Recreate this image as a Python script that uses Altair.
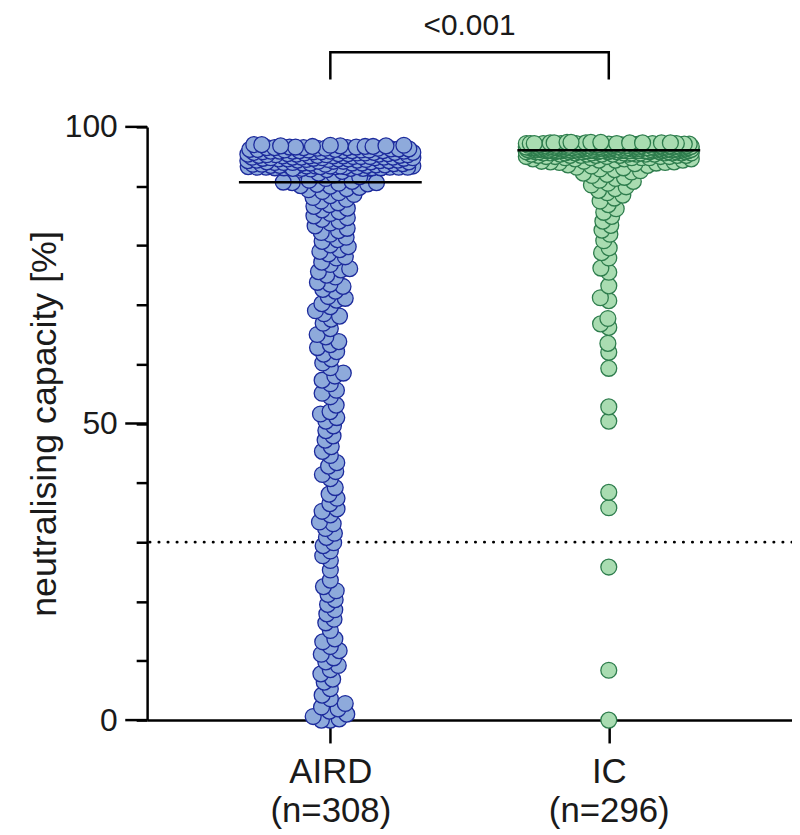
import numpy as np
import pandas as pd
import altair as alt

# ---------------- data ----------------
groups = ["AIRD", "IC"]
group_label_lines = [["AIRD", "(n=308)"], ["IC", "(n=296)"]]
p_value_text = ["<0.001"]
p_value_level = [115.5]
bracket_levels = [108.0, 112.6, 112.6, 108.0]
threshold = [30]
major_ticks = [0, 50, 100]

aird_low = [
    0.0, 0.0, 0.2, 0.6, 1.0, 1.5, 1.9, 2.2,
    2.8, 3.6, 4.2, 5.3, 6.4, 6.9, 7.8, 8.5, 9.2, 9.8,
    10.5, 11.1, 11.7, 12.4, 13.2, 13.7, 15.1, 16.4, 17.0, 17.9, 18.6, 19.5,
    20.3, 21.2, 21.8, 22.5, 23.6, 25.3, 26.9, 27.7, 28.5, 29.4, 29.9,
    30.8, 31.5, 32.3, 33.1, 33.4, 34.6, 35.2, 35.6, 36.5, 37.4, 38.1, 39.2,
    40.7, 41.4, 41.9, 42.8, 43.4, 44.6, 45.3, 46.1, 47.2, 47.9, 48.8, 49.6,
    50.4, 51.0, 51.6, 52.0, 53.1, 54.5, 55.1, 55.6, 56.7, 57.3, 58.0, 58.5, 59.4,
    60.2, 60.9, 61.7, 62.1, 62.8, 63.3, 63.8, 64.6, 65.0, 66.0, 66.9, 67.6,
    68.1, 68.5, 69.0, 69.7,
    70.2, 70.8, 71.1, 71.4, 72.3, 72.6, 73.1, 73.5, 73.8, 74.7, 75.0, 75.6,
    75.9, 76.1, 76.8, 77.2, 77.9, 78.1, 78.6, 79.0, 79.3, 79.8,
    80.1, 80.7, 81.0, 81.4, 81.9, 82.2, 82.5, 82.9, 83.3, 83.8, 84.1, 84.4,
    84.7, 85.0, 85.4, 85.7, 86.0, 86.3, 86.6, 86.9, 87.2, 87.5, 87.8, 88.1,
    88.4, 88.6, 88.9, 89.1, 89.4, 89.6, 89.8, 90.0, 90.1, 90.3, 90.4, 90.5,
    90.6, 90.6,
]
aird_top = [
    90.7, 90.8, 91.0, 91.3, 91.6, 91.9, 92.2, 92.5,
    92.8, 92.9, 93.0, 93.0, 93.1, 93.1, 93.2, 93.2, 93.2, 93.3, 93.3, 93.4,
    93.4, 93.4, 93.5, 93.5,
    93.0, 93.0, 93.1, 93.1, 93.2, 93.2, 93.3, 93.3, 93.3, 93.4, 93.4, 93.5,
    93.5, 93.5, 93.6, 93.6, 93.7, 93.7, 93.7, 93.8, 93.8, 93.9, 93.9, 93.9, 93.9,
    94.0, 94.0, 94.0, 94.1, 94.1, 94.1, 94.2, 94.2, 94.2, 94.3, 94.3, 94.3,
    94.4, 94.4, 94.4, 94.4, 94.5, 94.5, 94.5, 94.6, 94.6, 94.6, 94.6, 94.7,
    94.7, 94.7, 94.8, 94.8, 94.8, 94.8, 94.9, 94.9, 94.9, 94.9, 94.9,
    95.0, 95.0, 95.0, 95.1, 95.1, 95.1, 95.1, 95.2, 95.2, 95.2, 95.3, 95.3,
    95.3, 95.3, 95.4, 95.4, 95.4, 95.5, 95.5, 95.5, 95.5, 95.6, 95.6, 95.6,
    95.7, 95.7, 95.7, 95.7, 95.8, 95.8, 95.8, 95.9, 95.9, 95.9, 95.9, 95.9,
    96.0, 96.0, 96.0, 96.0,
    96.1, 96.1, 96.1, 96.1, 96.2, 96.2, 96.2, 96.3, 96.3, 96.3, 96.4, 96.4,
    96.4, 96.5, 96.5, 96.5, 96.5, 96.6, 96.6, 96.6, 96.7, 96.7, 96.7, 96.8,
    96.8, 96.8, 96.9, 96.9, 97.0, 97.0,
]

ic_low = [
    0.0, 8.4, 25.8, 35.8, 38.4, 50.4, 52.8, 59.3, 62.0, 63.5, 66.2, 66.8, 67.7,
    70.7, 71.2, 73.2, 75.5, 76.2, 77.9, 78.8, 79.6,
    80.8, 81.9, 82.6, 83.4, 84.1, 84.9, 85.6, 86.2, 86.9, 87.5, 88.0, 88.5,
    88.9, 89.3, 89.6, 89.9,
    90.2, 90.5, 90.8, 91.0, 91.3, 91.5, 91.8, 92.0, 92.2, 92.4, 92.6, 92.8,
    92.9, 93.1, 93.2, 93.4, 93.5, 93.6, 93.7, 93.8, 93.9, 94.0, 94.0, 94.1, 94.1,
]
# dense band of IC: value levels and how many dots sit at each level
ic_band_values = [94.2, 94.4, 94.6, 94.8, 95.0, 95.2, 95.4, 95.6, 95.8, 96.0,
                  96.1, 96.2, 96.3, 96.4, 96.5, 96.6, 96.7, 96.8, 96.9, 97.0,
                  97.1, 97.2, 97.3, 97.4]
ic_band_counts = [2, 3, 4, 5, 6, 7, 9, 12, 15, 23,
                  10, 12, 12, 12, 13, 12, 12, 12, 12, 11,
                  10, 9, 7, 4]

fills = ["#8eaadb", "#a9dcb1"]
strokes = ["#1c2a9c", "#2e7d4d"]

# ---------------- layout ----------------
W, H = 649, 597
PX_PER_UNIT = H / 100.0
DOT_D = 9.0     # minimal centre distance used for the swarm layout (px)
CAP = 83.0      # half width of the swarm (px)


def swarm(values, d=DOT_D, cap=CAP):
    ys = np.asarray(values, float) * PX_PER_UNIT
    order = np.argsort(ys, kind="stable")
    xs = np.zeros(len(ys))
    py_list, px_list = [], []
    for i in order:
        y = ys[i]
        if py_list:
            py = np.array(py_list)
            px = np.array(px_list)
            m = np.abs(py - y) < d
            ny, nx = py[m], px[m]
        else:
            ny = nx = np.array([])
        if len(ny) == 0:
            best = 0.0
        else:
            dy = ny - y
            dx = np.sqrt(np.maximum(d * d - dy * dy, 0))
            cands = np.concatenate([[0.0], nx + dx, nx - dx])
            cands = cands[np.abs(cands) <= cap]
            cands = sorted(cands, key=lambda c: (abs(c), c))
            best = None
            for c in cands:
                if np.all((c - nx) ** 2 + dy ** 2 >= d * d - 1e-6):
                    best = c
                    break
            if best is None:
                grid = np.linspace(-cap, cap, 167)
                dist = np.min((grid[:, None] - nx[None, :]) ** 2 + dy[None, :] ** 2, axis=1)
                best = grid[int(np.argmax(dist))]
        xs[i] = best
        py_list.append(y)
        px_list.append(best)
    return xs


aird_vals = aird_low + aird_top
ic_vals = ic_low + list(np.repeat(ic_band_values, ic_band_counts))

frames = []
for g, vals in zip(groups, [aird_vals, ic_vals]):
    frames.append(pd.DataFrame({"group": g, "value": vals, "off": swarm(vals)}))
df = pd.concat(frames, ignore_index=True)

FONT = "Liberation Sans"
TXT = "#1a1a1a"

label_expr = " : ".join(
    [f"datum.value == '{g}' ? {lines!r}" for g, lines in zip(groups, group_label_lines)]
) + " : datum.label"

x_enc = alt.X(
    "group:N",
    scale=alt.Scale(type="point", domain=groups, padding=0.658),
    axis=alt.Axis(
        title=None, labelAngle=0, labelExpr=label_expr, labelFont=FONT,
        labelFontSize=35, labelLineHeight=39, labelColor=TXT, labelPadding=12,
        tickSize=23, tickWidth=2.5, tickColor="black",
        domainColor="black", domainWidth=2.5, grid=False,
    ),
)
y_scale = alt.Scale(domain=[0, 100], nice=False, zero=False)
y_enc = alt.Y(
    "value:Q",
    scale=y_scale,
    axis=alt.Axis(
        title="neutralising capacity [%]", titleFont=FONT, titleFontSize=36,
        titleFontWeight="normal", titleColor=TXT, titlePadding=1,
        values=list(range(0, 101, 10)),
        labelExpr="datum.value % 50 === 0 ? datum.label : ''",
        labelFont=FONT, labelFontSize=32, labelColor=TXT, labelPadding=19,
        tickSize=11, tickWidth=2.5, tickColor="black",
        domainColor="black", domainWidth=2.5, grid=False,
    ),
)

dots = alt.Chart(df).mark_circle(size=256, opacity=1, strokeWidth=1.3).encode(
    x=x_enc,
    xOffset=alt.XOffset("off:Q", scale=alt.Scale(domain=[-100, 100], range=[-100, 100])),
    y=y_enc,
    fill=alt.Fill("group:N", scale=alt.Scale(domain=groups, range=fills), legend=None),
    stroke=alt.Stroke("group:N", scale=alt.Scale(domain=groups, range=strokes), legend=None),
)

medians = alt.Chart(df).mark_tick(size=184, thickness=2.5, color="black", opacity=1).encode(
    x=x_enc,
    y=alt.Y("median(value):Q", scale=y_scale),
)

dotted = alt.Chart(pd.DataFrame({"t": threshold})).mark_rule(
    color="black", strokeWidth=3, strokeDash=[0.1, 9], strokeCap="round"
).encode(y=alt.Y("t:Q", scale=y_scale))

major = alt.Chart(pd.DataFrame({"m": major_ticks})).mark_rule(
    color="black", strokeWidth=2.5
).encode(y=alt.Y("m:Q", scale=y_scale), x=alt.value(-22), x2=alt.value(0))

bracket_df = pd.DataFrame({
    "group": [groups[0], groups[0], groups[1], groups[1]],
    "b": bracket_levels,
    "o": [0, 1, 2, 3],
})
bracket = alt.Chart(bracket_df).mark_line(
    color="black", strokeWidth=2.5, strokeJoin="miter"
).encode(x=x_enc, y=alt.Y("b:Q", scale=y_scale), order="o:Q")

ptext = alt.Chart(pd.DataFrame({"t": p_value_text, "lv": p_value_level})).mark_text(
    font=FONT, fontSize=30, color=TXT, align="center", baseline="alphabetic"
).encode(text="t:N", y=alt.Y("lv:Q", scale=y_scale), x=alt.value(W / 2))

chart = alt.layer(dotted, dots, medians, major, bracket, ptext).properties(
    width=W, height=H,
    background="white",
    autosize=alt.AutoSizeParams(type="none"),
    padding={"left": 140, "top": 117, "right": 0, "bottom": 113},
).configure_view(stroke=None)

chart.save("out.html", embed_options={"renderer": "svg", "actions": False})
